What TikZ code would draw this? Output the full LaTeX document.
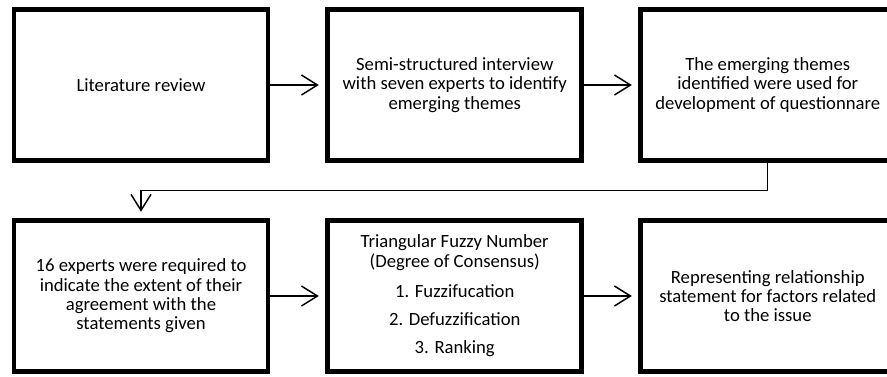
\documentclass[tikz,border=0pt]{standalone}
\usepackage{fontspec}
\setmainfont{Carlito}
\usetikzlibrary{arrows.meta}

\begin{document}
\begin{tikzpicture}[x=0.75pt,y=-0.75pt,
  stage/.style={draw,line width=3.4pt,minimum width=190.5pt,minimum height=113pt,
    inner sep=0pt,align=center,font=\fontsize{14}{14.5}\selectfont},
  flow/.style={line width=1.1pt,shorten >=5pt,-{Straight Barb[length=12pt,width=15pt]}}]
  \useasboundingbox (0,0) rectangle (887,376);
  \node[stage] (lit) at (141,85) {Literature review};
  \node[stage] (semi) at (454.75,85) {Semi-structured interview\\with seven experts to identify\\emerging themes};
  \node[stage] (themes) at (767.75,85) {The emerging themes\\identified were used for\\development of questionnare};
  \node[stage] (experts) at (141,296) {16 experts were required to\\indicate the extent of their\\agreement with the\\statements given};
  \node[stage] (fuzzy) at (454.75,296) {Triangular Fuzzy Number\\(Degree of Consensus)\\[7.8pt]1. Fuzzifucation\\[6.8pt]2. Defuzzification\\[6.8pt]3. Ranking};
  \node[stage] (relation) at (767.75,296) {Representing relationship\\statement for factors related\\to the issue};
  \draw[flow] (lit) -- (semi);
  \draw[flow] (semi) -- (themes);
  \draw[flow] (themes.south) -- ++(0,28) -| (experts.north);
  \draw[flow] (experts) -- (fuzzy);
  \draw[flow] (fuzzy) -- (relation);
\end{tikzpicture}
\end{document}
